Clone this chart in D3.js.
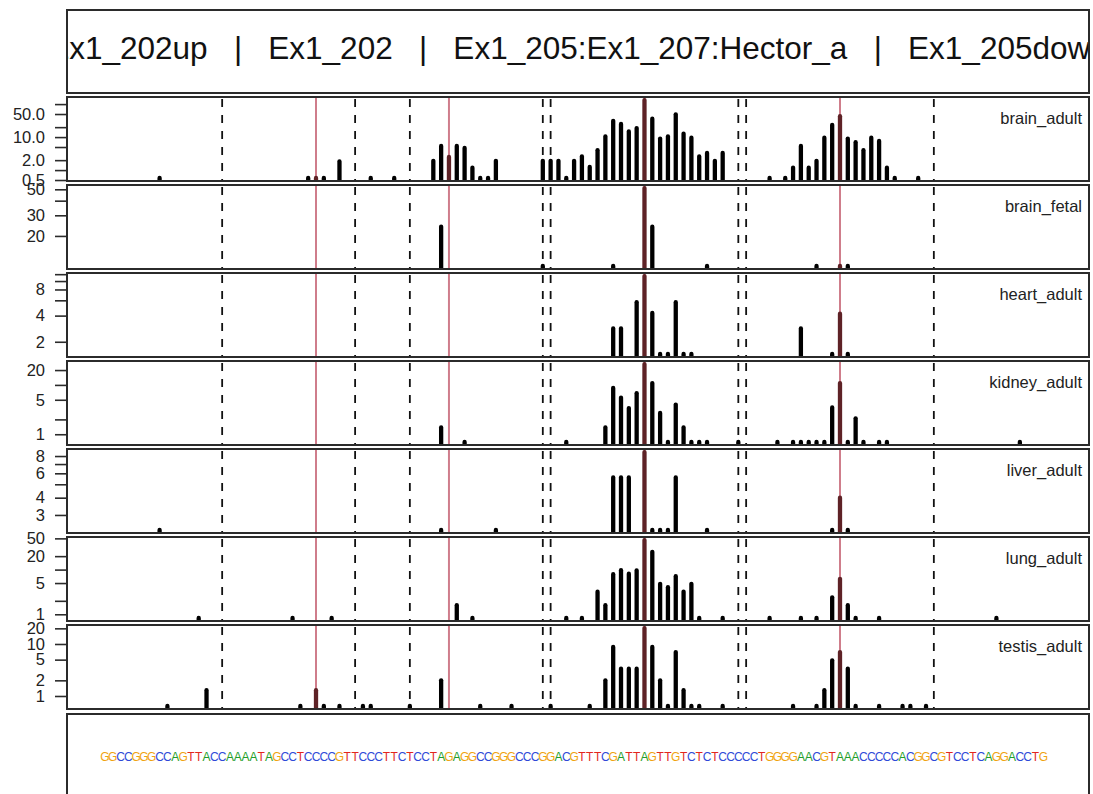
<!DOCTYPE html>
<html>
<head>
<meta charset="utf-8">
<script src="https://cdn.jsdelivr.net/npm/d3@7/dist/d3.min.js"></script>
<style>
  body { margin: 0; background: #fff; }
  svg { display: block; }
  text { font-family: "Liberation Sans", Arial, Helvetica, sans-serif; }
</style>
</head>
<body>
<script>
// ---- region annotation -------------------------------------------------
const regionTitle = "Ex1_202up   |   Ex1_202   |   Ex1_205:Ex1_207:Hector_a   |   Ex1_205down";
const sequence = "GGCCGGGCCAGTTACCAAAATAGCCTCCCCGTTCCCTTCTCCTAGAGGCCGGGCCCGGACGTTTCGATTAGTTGTCTCTCCCCCTGGGGAACGTAAACCCCCACGGCGTCCTCAGGACCTG";
const positionCount = 122;                       // bases shown on the x axis
const boundaries = [16, 33, 40, 57, 58, 82, 83, 107]; // exon boundaries (dashed)
const highlights = [28, 45, 70, 95];              // marked sites (red)

// ---- read coverage per tissue: [position, value] -----------------------
const tissues = ["brain_adult", "brain_fetal", "heart_adult", "kidney_adult", "liver_adult", "lung_adult", "testis_adult"];

const brainAdult = [[8,0.58],[27,0.58],[28,0.58],[29,0.58],[31,1.83],[35,0.58],[38,0.58],
  [43,1.91],[44,5.4],[45,2.5],[46,5.4],[47,4.7],[48,1.18],[49,0.58],[50,0.58],[51,1.91],
  [57,1.91],[58,1.91],[59,1.91],[60,0.58],[61,1.91],[62,2.6],[63,1.24],[64,4.0],[65,10.5],
  [66,31],[67,25],[68,14.8],[69,18.7],[70,132],[71,36],[72,9.0],[73,10.5],[74,49],[75,12.7],
  [76,9.6],[77,2.6],[78,3.3],[79,1.91],[80,3.3],[86,0.58],[88,0.58],[89,1.18],[90,5.4],
  [91,1.18],[92,1.91],[93,9.6],[94,23.5],[95,43],[96,9.0],[97,7.0],[98,4.0],[99,9.6],
  [100,7.6],[101,1.18],[102,0.58],[105,0.58]];
const brainFetal = [[44,24],[57,11.1],[66,11.1],[70,51.2],[71,24],[78,11.1],[92,11.1],[95,11.1],[96,11.1]];
const heartAdult = [[66,2.85],[67,2.85],[69,5.7],[70,11.4],[71,4.3],[72,1.45],[73,1.45],[74,5.7],
  [75,1.45],[76,1.45],[90,2.85],[94,1.45],[95,4.2],[96,1.45]];
const kidneyAdult = [[44,1.37],[47,0.7],[60,0.7],[65,1.37],[66,8.7],[67,5.5],[68,3.4],[69,6.8],
  [70,26.4],[71,10.9],[72,2.7],[73,0.7],[74,4.0],[75,1.37],[76,0.7],[77,0.7],[78,0.7],[82,0.7],
  [87,0.7],[89,0.7],[90,0.7],[91,0.7],[92,0.7],[93,0.7],[94,3.5],[95,10.9],[96,0.7],[97,2.1],
  [98,0.7],[100,0.7],[101,0.7],[118,0.7]];
const liverAdult = [[8,2.34],[44,2.34],[51,2.34],[66,5.6],[67,5.6],[68,5.6],[70,8.54],[71,2.34],
  [72,2.34],[73,2.34],[74,5.6],[78,2.34],[94,2.34],[95,4.0],[96,2.34]];
const lungAdult = [[13,0.83],[25,0.83],[30,0.83],[46,1.6],[48,0.83],[60,0.83],[62,0.83],[64,3.2],
  [65,1.6],[66,7.9],[67,9.7],[68,8.1],[69,9.6],[70,45.7],[71,25],[72,4.8],[73,4.05],[74,7.1],
  [75,3.2],[76,4.8],[77,0.83],[80,0.83],[86,0.83],[90,0.83],[92,0.83],[94,2.4],[95,6.2],
  [96,1.6],[97,0.83],[100,0.83],[115,0.83]];
const testisAdult = [[9,0.645],[14,1.29],[26,0.645],[28,1.29],[29,0.645],[31,0.645],[34,0.645],
  [35,0.645],[40,0.645],[44,2.0],[49,0.645],[53,0.645],[58,0.645],[63,0.645],[65,2.0],[66,8.8],
  [67,3.35],[68,3.35],[69,3.35],[70,20.2],[71,8.8],[72,2.0],[73,0.645],[74,7.0],[75,1.29],
  [76,0.645],[77,0.645],[80,0.645],[89,0.645],[92,0.645],[93,1.29],[94,4.85],[95,7.0],
  [96,3.35],[97,0.645],[100,0.645],[103,0.645],[104,0.645],[106,0.645]];

// ---- y-axis ticks and the labels printed beside them -------------------
const brainAdultTicks = [0.5, 1, 2, 5, 10, 20, 50, 100];
const brainAdultLabels = ["0.5", "2.0", "10.0", "50.0"];
const brainFetalTicks = [20, 30, 40, 50];
const brainFetalLabels = ["20", "30", "50"];
const heartAdultTicks = [2, 4, 6, 8, 10, 12];
const heartAdultLabels = ["2", "4", "8"];
const kidneyAdultTicks = [1, 2, 5, 10, 20];
const kidneyAdultLabels = ["1", "5", "20"];
const liverAdultTicks = [3, 4, 5, 6, 7, 8];
const liverAdultLabels = ["3", "4", "6", "8"];
const lungAdultTicks = [1, 2, 5, 10, 20, 50];
const lungAdultLabels = ["1", "5", "20", "50"];
const testisAdultTicks = [1, 2, 5, 10, 20];
const testisAdultLabels = ["1", "2", "5", "10", "20"];

const panelData = [
  { name: tissues[0], data: brainAdult,  ticks: brainAdultTicks,  labels: brainAdultLabels },
  { name: tissues[1], data: brainFetal,  ticks: brainFetalTicks,  labels: brainFetalLabels },
  { name: tissues[2], data: heartAdult,  ticks: heartAdultTicks,  labels: heartAdultLabels },
  { name: tissues[3], data: kidneyAdult, ticks: kidneyAdultTicks, labels: kidneyAdultLabels },
  { name: tissues[4], data: liverAdult,  ticks: liverAdultTicks,  labels: liverAdultLabels },
  { name: tissues[5], data: lungAdult,   ticks: lungAdultTicks,   labels: lungAdultLabels },
  { name: tissues[6], data: testisAdult, ticks: testisAdultTicks, labels: testisAdultLabels }
];

const baseColors = { A: "#1f9e2a", C: "#2e49d8", G: "#f0a30f", T: "#e2261d" };

// ---- layout ------------------------------------------------------------
const W = 1093, H = 794;
const left = 67, right = 1089;
const headerTop = 10, headerH = 83;
const panelTop = 97, panelPitch = 88, panelH = 84;
const seqTop = 714;
const frame = "#2b2b2b";

const svg = d3.select("body").append("svg").attr("width", W).attr("height", H);
const defs = svg.append("defs");

// x: base positions, padded by 4% on each side
const pad = 0.04 * (positionCount - 1);
const x = d3.scaleLinear().domain([1 - pad, positionCount + pad]).range([left, right]);

// header with the exon names, clipped to its box
defs.append("clipPath").attr("id", "clip-header")
  .append("rect").attr("x", left).attr("y", headerTop).attr("width", right - left).attr("height", headerH);
svg.append("text")
  .attr("clip-path", "url(#clip-header)")
  .attr("x", (left + right) / 2).attr("y", headerTop + 49)
  .attr("text-anchor", "middle")
  .style("white-space", "pre")
  .attr("font-size", 31.5)
  .attr("fill", "#111")
  .text(regionTitle);
svg.append("rect").attr("x", left).attr("y", headerTop).attr("width", right - left).attr("height", headerH)
  .attr("fill", "none").attr("stroke", frame).attr("stroke-width", 2);

// tissue panels
panelData.forEach((p, i) => {
  const top = panelTop + i * panelPitch, bottom = top + panelH;
  const [lo, hi] = d3.extent(p.data, d => Math.log10(d[1]));
  const span = hi - lo;
  const y = d3.scaleLog()
    .domain([10 ** (lo - 0.04 * span), 10 ** (hi + 0.04 * span)])
    .range([bottom, top]);

  const clipId = "clip-" + p.name;
  defs.append("clipPath").attr("id", clipId)
    .append("rect").attr("x", left).attr("y", top).attr("width", right - left).attr("height", panelH);

  const g = svg.append("g").attr("clip-path", `url(#${clipId})`);

  // marked sites
  g.selectAll("line.site").data(highlights).join("line")
    .attr("class", "site")
    .attr("x1", d => x(d)).attr("x2", d => x(d))
    .attr("y1", top).attr("y2", bottom)
    .attr("stroke", "#cf7d8b").attr("stroke-width", 2);

  // exon boundaries
  g.selectAll("line.bound").data(boundaries).join("line")
    .attr("class", "bound")
    .attr("x1", d => x(d)).attr("x2", d => x(d))
    .attr("y1", top + 2).attr("y2", bottom)
    .attr("stroke", "#111").attr("stroke-width", 1.8)
    .attr("stroke-dasharray", "8,8");

  // coverage bars
  g.selectAll("line.bar").data(p.data).join("line")
    .attr("class", "bar")
    .attr("x1", d => x(d[0])).attr("x2", d => x(d[0]))
    .attr("y1", bottom + 3).attr("y2", d => y(d[1]))
    .attr("stroke", d => highlights.includes(d[0]) ? "#5e2226" : "#000")
    .attr("stroke-width", 4.3)
    .attr("stroke-linecap", "round");

  // panel frame
  svg.append("rect").attr("x", left).attr("y", top).attr("width", right - left).attr("height", panelH)
    .attr("fill", "none").attr("stroke", frame).attr("stroke-width", 2);

  // y axis
  const labelValues = new Map(p.labels.map(s => [+s, s]));
  const axis = d3.axisLeft(y)
    .tickValues(p.ticks)
    .tickSize(12)
    .tickSizeOuter(0)
    .tickPadding(10)
    .tickFormat(d => labelValues.has(d) ? labelValues.get(d) : "");
  const ag = svg.append("g").attr("transform", `translate(${left},0)`).call(axis);
  ag.select(".domain")
    .attr("d", `M0,${y(d3.max(p.ticks))}V${y(d3.min(p.ticks))}`)
    .attr("stroke", frame).attr("stroke-width", 1.6);
  ag.selectAll(".tick line").attr("stroke", frame).attr("stroke-width", 1.6);
  ag.selectAll(".tick text")
    .attr("font-family", "'Liberation Sans', Arial, sans-serif")
    .attr("font-size", 16.5).attr("fill", "#222");

  // tissue name
  svg.append("text")
    .attr("x", right - 7).attr("y", top + 27)
    .attr("text-anchor", "end")
    .attr("font-size", 16.5).attr("fill", "#222")
    .text(p.name);
});

// sequence track
svg.append("rect").attr("x", left).attr("y", seqTop).attr("width", right - left).attr("height", 100)
  .attr("fill", "none").attr("stroke", frame).attr("stroke-width", 2);
svg.append("g").selectAll("text").data(sequence.split("")).join("text")
  .attr("x", (d, i) => x(i + 1))
  .attr("y", seqTop + 47)
  .attr("text-anchor", "middle")
  .attr("font-size", 12)
  .attr("fill", d => baseColors[d])
  .text(d => d);
</script>
</body>
</html>
